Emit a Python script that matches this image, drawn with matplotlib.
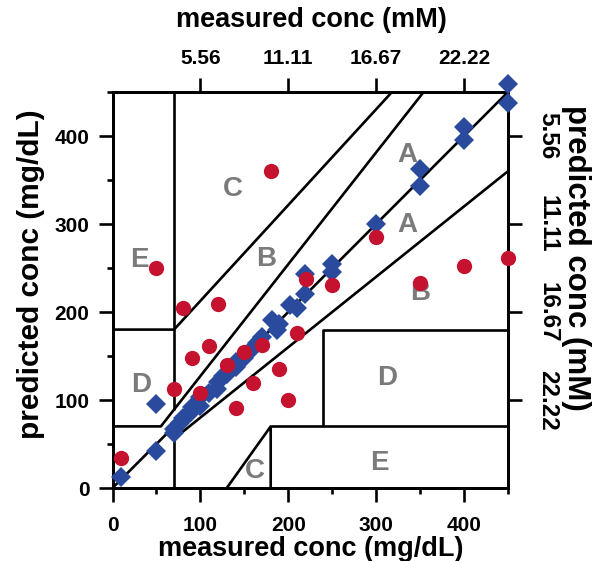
import matplotlib
matplotlib.use('Agg')
import matplotlib.pyplot as plt
from matplotlib.ticker import FixedLocator

plt.rcParams['font.family'] = ['Liberation Sans', 'DejaVu Sans']
plt.rcParams['font.weight'] = 'bold'

# ---- data (mg/dL) ----
blue_measured = [10, 50, 50, 70, 70, 77, 80, 88, 90, 100, 100, 110, 119, 120, 126, 130,
                 141, 140, 150, 155, 164, 170, 181, 187, 190, 202, 210, 219, 219, 250, 250,
                 300, 350, 350, 400, 400, 450, 450]
blue_predicted = [13, 42, 95, 62, 67, 74, 80, 85, 92, 93, 103, 108, 112, 120, 127, 130,
                  138, 143, 148, 155, 165, 172, 191, 180, 186, 208, 205, 220, 243, 254, 245,
                  300, 343, 362, 395, 410, 438, 459]

red_measured = [10, 50, 70, 80, 90, 100, 110, 120, 130, 140, 150, 160, 170, 180, 190,
                200, 210, 220, 250, 300, 350, 400, 450]
red_predicted = [34, 250, 113, 205, 148, 108, 161, 209, 140, 91, 154, 119, 163, 360, 135,
                 100, 176, 237, 231, 285, 233, 252, 261]

# Clarke zone boundaries (polylines, mg/dL)
zone_lines = [
    ([0, 450], [0, 450]),
    ([0, 55, 354], [70, 70, 450]),
    ([70, 450], [56, 360]),
    ([0, 70, 318], [180, 180, 450]),
    ([70, 70], [89, 450]),
    ([70, 70], [0, 56]),
    ([130, 180, 180], [0, 70, 0]),
    ([180, 450], [70, 70]),
    ([240, 240, 450], [70, 180, 180]),
]
zone_labels = ['C', 'B', 'A', 'A', 'E', 'D', 'B', 'D', 'C', 'E']
zone_label_x = [137, 175, 335, 335, 31, 33, 350, 312, 162, 304]
zone_label_y = [340, 260, 378, 299, 259, 117, 222, 125, 19, 28]

ticks_mgdl = [0, 100, 200, 300, 400]
minor_mgdl = [50, 150, 250, 350, 450]
mm_ticks = [100, 200, 300, 400]
mm_top_labels = ['5.56', '11.11', '16.67', '22.22']
mm_right_labels = ['22.22', '16.67', '11.11', '5.56']

fig = plt.figure(figsize=(5.94, 5.61), dpi=100)
ax = fig.add_axes([112.5 / 594, 1 - 488 / 561, 395.5 / 594, 396 / 561])
ax.set_xlim(0, 450)
ax.set_ylim(0, 450)

lw = 1.9
for xs, ys in zone_lines:
    ax.plot(xs, ys, color='black', lw=lw, zorder=1, solid_capstyle='butt')

for t, x, y in zip(zone_labels, zone_label_x, zone_label_y):
    ax.text(x, y, t, color='#7a7a7a', fontsize=20, fontweight='bold',
            ha='center', va='center', zorder=2)

ax.plot(blue_measured, blue_predicted, 'D', color='#2a4a9e', ms=10.5, mew=0,
        zorder=5, clip_on=False)
ax.plot(red_measured, red_predicted, 'o', color='#c4122f', ms=11, mew=0,
        zorder=6, clip_on=False)

for s in ax.spines.values():
    s.set_linewidth(lw)

ax.set_xticks(ticks_mgdl)
ax.set_yticks(ticks_mgdl)
ax.xaxis.set_minor_locator(FixedLocator(minor_mgdl))
ax.yaxis.set_minor_locator(FixedLocator(minor_mgdl))
ax.tick_params(which='major', direction='out', length=10, width=lw, labelsize=15)
ax.tick_params(which='minor', direction='out', length=4, width=lw)
ax.tick_params(axis='x', which='major', pad=10.5)
ax.tick_params(axis='y', which='major', pad=6.5)

ax_top = ax.twiny()
ax_top.set_xlim(0, 450)
ax_top.set_xticks(mm_ticks)
ax_top.set_xticklabels(mm_top_labels)
ax_top.tick_params(direction='out', length=10, width=lw, labelsize=15, pad=7)

ax_right = ax.twinx()
ax_right.set_ylim(0, 450)
ax_right.set_yticks(mm_ticks)
ax_right.set_yticklabels(mm_right_labels, rotation=-90, va='center')
ax_right.tick_params(direction='out', length=10, width=lw, labelsize=17.5, pad=10.5)
for a in (ax_top, ax_right):
    for s in a.spines.values():
        s.set_linewidth(lw)
ax.set_zorder(ax_right.get_zorder() + 1)
ax.patch.set_visible(False)

fig.text(311 / 594, 1 - 555.5 / 561, 'measured conc (mg/dL)', fontsize=19.5,
         fontweight='bold', ha='center', va='baseline')
fig.text(311 / 594, 1 - 27 / 561, 'measured conc (mM)', fontsize=19.5,
         fontweight='bold', ha='center', va='baseline')
fig.text(31.5 / 594, 1 - 274 / 561, 'predicted conc (mg/dL)', fontsize=21.5,
         fontweight='bold', ha='center', va='center', rotation=90)
fig.text(576 / 594, 1 - 258 / 561, 'predicted conc (mM)', fontsize=22.5,
         fontweight='bold', ha='center', va='center', rotation=-90)

fig.savefig('out.png', dpi=100)
